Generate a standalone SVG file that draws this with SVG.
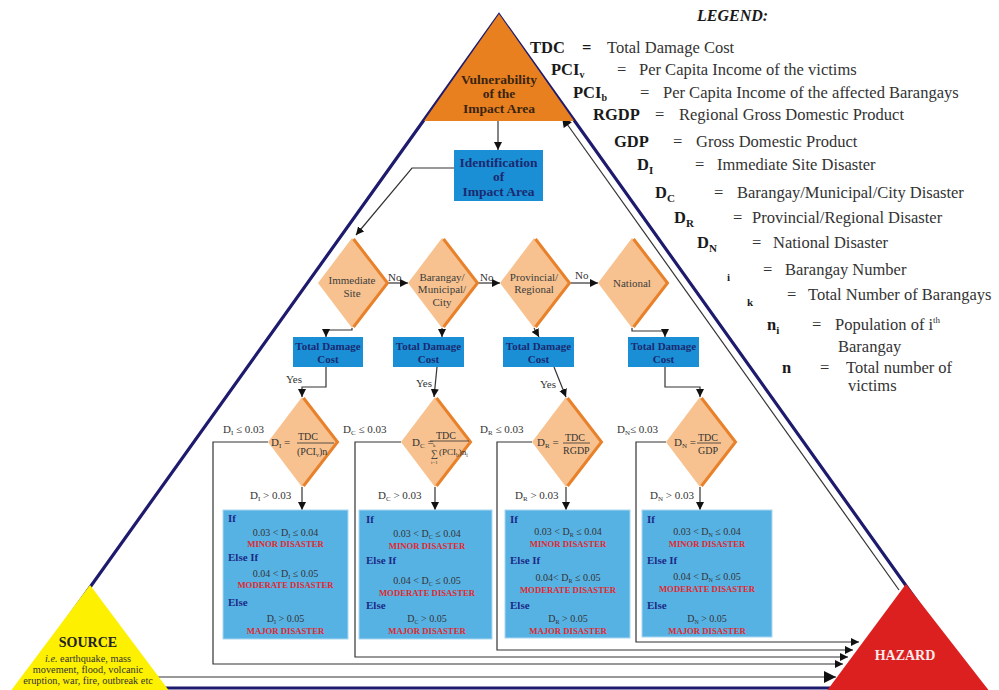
<svg xmlns="http://www.w3.org/2000/svg" width="999" height="690" viewBox="0 0 999 690">
<style>
text{font-family:"Liberation Serif","Times New Roman",serif}
.lg{font-size:16.5px;fill:#333}
.lb{font-size:16.5px;font-weight:bold;fill:#1a1a1a}
.dia{fill:#f7c28f}
.edge{fill:none;stroke:#e8812a;stroke-width:3}
.dt{font-size:11px;fill:#3d3d3d;text-anchor:middle}
.box{fill:#1b8fd6}
.bt{font-size:11px;font-weight:bold;fill:#1a2a70;text-anchor:middle}
.res{fill:#57b2e4;stroke:#a9d6f0;stroke-width:1}
.kw{font-size:11px;font-weight:bold;fill:#1b2a86}
.red{font-size:8.7px;font-weight:bold;fill:#e0282e;text-anchor:middle}
.cond{font-size:10px;fill:#333;text-anchor:middle}
.lab{font-size:11px;fill:#333}
.fx{font-size:10px;fill:#333}
.src{font-size:10.3px;fill:#333;text-anchor:middle}
.con{fill:none;stroke:#333;stroke-width:1.2}
</style>
<defs>
<marker id="ah" markerUnits="userSpaceOnUse" markerWidth="8" markerHeight="8" viewBox="0 0 10 10" refX="10" refY="5" orient="auto"><path d="M0,0 L10,5 L0,10 z" fill="#111"/></marker>
<marker id="ahm" markerUnits="userSpaceOnUse" markerWidth="12" markerHeight="10" viewBox="0 0 10 10" refX="10" refY="5" orient="auto"><path d="M0,0 L10,5 L0,10 z" fill="#111"/></marker>
<marker id="ahb" markerUnits="userSpaceOnUse" markerWidth="16" markerHeight="12" viewBox="0 0 10 10" refX="10" refY="5" orient="auto"><path d="M0,0 L10,5 L0,10 z" fill="#111"/></marker>
</defs>

<!-- outer navy triangle -->
<polygon points="499,15 18,688 979,688" fill="none" stroke="#1e1b6e" stroke-width="3.2"/>

<g id="connectors">
  <path class="con" d="M899,590 L562,117" stroke-width="2.2" stroke="#111" marker-end="url(#ahm)"/>
  <path class="con" d="M157,677 H836" stroke-width="3" stroke="#111" marker-end="url(#ahb)"/>
  <path class="con" d="M498,121 V150" marker-end="url(#ah)"/>
  <path class="con" d="M454,168 H412 L356,235" marker-end="url(#ah)"/>
  <path class="con" d="M386,283 H408" marker-end="url(#ah)"/>
  <path class="con" d="M476,283 H500" marker-end="url(#ah)"/>
  <path class="con" d="M568,283 H598" marker-end="url(#ah)"/>
  <path class="con" d="M352,328 V330 H326 V337" marker-end="url(#ah)"/>
  <path class="con" d="M442,328 V337" marker-end="url(#ah)"/>
  <path class="con" d="M534,328 L539,337" marker-end="url(#ah)"/>
  <path class="con" d="M632,328 V331 H665 V337" marker-end="url(#ah)"/>
  <path class="con" d="M326,367 V387 H302 V397" marker-end="url(#ah)"/>
  <path class="con" d="M437,367 L434,397" marker-end="url(#ah)"/>
  <path class="con" d="M554,367 L566,397" marker-end="url(#ah)"/>
  <path class="con" d="M665,367 V387 H700 V397" marker-end="url(#ah)"/>
  <path class="con" d="M302,487 V510" marker-end="url(#ah)"/>
  <path class="con" d="M435,487 V510" marker-end="url(#ah)"/>
  <path class="con" d="M566,487 V510" marker-end="url(#ah)"/>
  <path class="con" d="M700,487 V510" marker-end="url(#ah)"/>
  <path class="con" d="M268,442 H213 V664 H843" marker-end="url(#ah)"/>
  <path class="con" d="M401,442 H355 V657 H848" marker-end="url(#ah)"/>
  <path class="con" d="M532,442 H497 V650 H853" marker-end="url(#ah)"/>
  <path class="con" d="M666,442 H636 V642 H859" marker-end="url(#ah)"/>
  <text class="lab" x="388" y="281">No</text>
  <text class="lab" x="480" y="281">No</text>
  <text class="lab" x="575" y="279">No</text>
  <text class="lab" x="294" y="383" text-anchor="middle">Yes</text>
  <text class="lab" x="424" y="387" text-anchor="middle">Yes</text>
  <text class="lab" x="548" y="388" text-anchor="middle">Yes</text>
  <text class="lab" x="223" y="433">D<tspan font-size="7" dy="2">I</tspan><tspan dy="-2"> ≤ 0.03</tspan></text>
  <text class="lab" x="343" y="433">D<tspan font-size="7" dy="2">C</tspan><tspan dy="-2"> ≤ 0.03</tspan></text>
  <text class="lab" x="480" y="433">D<tspan font-size="7" dy="2">R</tspan><tspan dy="-2"> ≤ 0.03</tspan></text>
  <text class="lab" x="617" y="433">D<tspan font-size="7" dy="2">N</tspan><tspan dy="-2">≤ 0.03</tspan></text>
  <text class="lab" x="250" y="499">D<tspan font-size="7" dy="2">I</tspan><tspan dy="-2"> &gt; 0.03</tspan></text>
  <text class="lab" x="378" y="499">D<tspan font-size="7" dy="2">C</tspan><tspan dy="-2"> &gt; 0.03</tspan></text>
  <text class="lab" x="515" y="499">D<tspan font-size="7" dy="2">R</tspan><tspan dy="-2"> &gt; 0.03</tspan></text>
  <text class="lab" x="650" y="499">D<tspan font-size="7" dy="2">N</tspan><tspan dy="-2"> &gt; 0.03</tspan></text>
</g>

<g id="vulnerability">
  <polygon points="499,14 424,121 574,121" fill="#e8801f"/>
  <text x="499" y="84" font-size="13.5" font-weight="bold" fill="#3a2410" text-anchor="middle">Vulnerability</text>
  <text x="499" y="98" font-size="13.5" font-weight="bold" fill="#3a2410" text-anchor="middle">of the</text>
  <text x="499" y="113" font-size="13.5" font-weight="bold" fill="#3a2410" text-anchor="middle">Impact Area</text>
</g>

<g id="source">
  <polygon points="90,585 10,692 170,692" fill="#fdf000"/>
  <text x="88" y="647" font-size="14" font-weight="bold" fill="#222" text-anchor="middle">SOURCE</text>
  <text class="src" x="88" y="662"><tspan font-style="italic">i.e.</tspan> earthquake, mass</text>
  <text class="src" x="88" y="673">movement, flood, volcanic</text>
  <text class="src" x="88" y="684">eruption, war, fire, outbreak etc</text>
</g>

<g id="hazard">
  <polygon points="906,584 826,692 990,692" fill="#dc2020"/>
  <text x="905" y="660" font-size="14" font-weight="bold" fill="#f8eaea" text-anchor="middle">HAZARD</text>
</g>

<g id="identification">
  <rect class="box" x="454" y="150" width="89" height="51"/>
  <text x="498.5" y="167" font-size="13.5" font-weight="bold" fill="#1a2a70" text-anchor="middle">Identification</text>
  <text x="498.5" y="181" font-size="13.5" font-weight="bold" fill="#1a2a70" text-anchor="middle">of</text>
  <text x="498.5" y="196" font-size="13.5" font-weight="bold" fill="#1a2a70" text-anchor="middle">Impact Area</text>
</g>

<g id="d-immediate">
  <polygon class="dia" points="352,238 386,283 352,328 318,283"/>
  <polyline class="edge" points="353.5,239 387.5,283 353.5,327"/>
  <text class="dt" x="352" y="284">Immediate</text>
  <text class="dt" x="352" y="297">Site</text>
</g>
<g id="d-barangay">
  <polygon class="dia" points="442,238 476,283 442,328 408,283"/>
  <polyline class="edge" points="443.5,239 477.5,283 443.5,327"/>
  <text class="dt" x="442" y="281">Barangay/</text>
  <text class="dt" x="442" y="293">Municipal/</text>
  <text class="dt" x="442" y="306">City</text>
</g>
<g id="d-provincial">
  <polygon class="dia" points="534,238 568,283 534,328 500,283"/>
  <polyline class="edge" points="535.5,239 569.5,283 535.5,327"/>
  <text class="dt" x="534" y="281">Provincial/</text>
  <text class="dt" x="534" y="293">Regional</text>
</g>
<g id="d-national">
  <polygon class="dia" points="632,238 666,283 632,328 598,283"/>
  <polyline class="edge" points="633.5,239 667.5,283 633.5,327"/>
  <text class="dt" x="632" y="287">National</text>
</g>

<g id="tdc1"><rect class="box" x="293" y="337" width="70" height="30"/><text class="bt" x="328" y="350">Total Damage</text><text class="bt" x="328" y="363">Cost</text></g>
<g id="tdc2"><rect class="box" x="393" y="337" width="71" height="30"/><text class="bt" x="428.5" y="350">Total Damage</text><text class="bt" x="428.5" y="363">Cost</text></g>
<g id="tdc3"><rect class="box" x="503" y="337" width="71" height="30"/><text class="bt" x="538.5" y="350">Total Damage</text><text class="bt" x="538.5" y="363">Cost</text></g>
<g id="tdc4"><rect class="box" x="628" y="337" width="71" height="30"/><text class="bt" x="663.5" y="350">Total Damage</text><text class="bt" x="663.5" y="363">Cost</text></g>

<g id="f-di">
  <polygon class="dia" points="302,397 336,442 302,487 268,442"/>
  <polyline class="edge" points="303.5,398 337.5,442 303.5,486"/>
  <text x="271" y="446" font-size="11" fill="#333">D<tspan font-size="7" dy="2">I</tspan><tspan dy="-2"> =</tspan></text>
  <text class="fx" x="298" y="440">TDC</text>
  <line x1="297" y1="443" x2="334" y2="443" stroke="#333" stroke-width="0.8"/>
  <text class="fx" x="297" y="455">(PCI<tspan font-size="6" dy="2">v</tspan><tspan dy="-2">)n</tspan></text>
</g>
<g id="f-dc">
  <polygon class="dia" points="435,397 469,442 435,487 401,442"/>
  <polyline class="edge" points="436.5,398 470.5,442 436.5,486"/>
  <text x="412" y="446" font-size="11" fill="#333">D<tspan font-size="7" dy="2">C</tspan><tspan dy="-2"> =</tspan></text>
  <text class="fx" x="436" y="439">TDC</text>
  <line x1="430" y1="441" x2="469" y2="441" stroke="#333" stroke-width="0.8"/>
  <text x="431" y="457" font-size="10" fill="#333">∑</text>
  <text x="433" y="447" font-size="5" fill="#333">k</text>
  <text x="431" y="464" font-size="5" fill="#333">i=1</text>
  <text x="439" y="455" font-size="9" fill="#333">(PCI<tspan font-size="5.5" dy="2">b</tspan><tspan dy="-2">)n</tspan><tspan font-size="5.5" dy="2">i</tspan></text>
</g>
<g id="f-dr">
  <polygon class="dia" points="566,397 600,442 566,487 532,442"/>
  <polyline class="edge" points="567.5,398 601.5,442 567.5,486"/>
  <text x="537" y="446" font-size="11" fill="#333">D<tspan font-size="7" dy="2">R</tspan><tspan dy="-2"> =</tspan></text>
  <text class="fx" x="565" y="441">TDC</text>
  <line x1="563" y1="443" x2="590" y2="443" stroke="#333" stroke-width="0.8"/>
  <text class="fx" x="563" y="454">RGDP</text>
</g>
<g id="f-dn">
  <polygon class="dia" points="700,397 734,442 700,487 666,442"/>
  <polyline class="edge" points="701.5,398 735.5,442 701.5,486"/>
  <text x="674" y="446" font-size="11" fill="#333">D<tspan font-size="7" dy="2">N</tspan><tspan dy="-2"> =</tspan></text>
  <text class="fx" x="698" y="441">TDC</text>
  <line x1="697" y1="443" x2="721" y2="443" stroke="#333" stroke-width="0.8"/>
  <text class="fx" x="698" y="454">GDP</text>
</g>

<g id="r-di">
  <rect class="res" x="223" y="510" width="125" height="129"/>
  <text class="kw" x="228" y="522">If</text>
  <text class="cond" x="285.5" y="536">0.03 &lt; D<tspan font-size="6" dy="2">I</tspan><tspan dy="-2"> ≤ 0.04</tspan></text>
  <text class="red" x="285.5" y="547">MINOR DISASTER</text>
  <text class="kw" x="228" y="561">Else If</text>
  <text class="cond" x="285.5" y="577">0.04  &lt; D<tspan font-size="6" dy="2">I</tspan><tspan dy="-2"> ≤ 0.05</tspan></text>
  <text class="red" x="285.5" y="588">MODERATE DISASTER</text>
  <text class="kw" x="228" y="606">Else</text>
  <text class="cond" x="285.5" y="622">D<tspan font-size="6" dy="2">I</tspan><tspan dy="-2"> &gt; 0.05</tspan></text>
  <text class="red" x="285.5" y="634">MAJOR DISASTER</text>
</g>
<g id="r-dc">
  <rect class="res" x="359" y="510" width="133" height="129"/>
  <text class="kw" x="366" y="523">If</text>
  <text class="cond" x="427" y="537">0.03   &lt; D<tspan font-size="6" dy="2">C</tspan><tspan dy="-2"> ≤ 0.04</tspan></text>
  <text class="red" x="427" y="549">MINOR DISASTER</text>
  <text class="kw" x="366" y="564">Else If</text>
  <text class="cond" x="427" y="584">0.04 &lt; D<tspan font-size="6" dy="2">C</tspan><tspan dy="-2"> ≤ 0.05</tspan></text>
  <text class="red" x="427" y="596">MODERATE DISASTER</text>
  <text class="kw" x="366" y="609">Else</text>
  <text class="cond" x="427" y="622">D<tspan font-size="6" dy="2">C</tspan><tspan dy="-2"> &gt; 0.05</tspan></text>
  <text class="red" x="427" y="634">MAJOR DISASTER</text>
</g>
<g id="r-dr">
  <rect class="res" x="505" y="510" width="125" height="128"/>
  <text class="kw" x="510" y="523">If</text>
  <text class="cond" x="568" y="535">0.03   &lt; D<tspan font-size="6" dy="2">R</tspan><tspan dy="-2"> ≤ 0.04</tspan></text>
  <text class="red" x="568" y="547">MINOR DISASTER</text>
  <text class="kw" x="510" y="564">Else If</text>
  <text class="cond" x="568" y="581">0.04&lt; D<tspan font-size="6" dy="2">R</tspan><tspan dy="-2"> ≤ 0.05</tspan></text>
  <text class="red" x="568" y="593">MODERATE DISASTER</text>
  <text class="kw" x="510" y="609">Else</text>
  <text class="cond" x="568" y="622">D<tspan font-size="6" dy="2">R</tspan><tspan dy="-2"> &gt; 0.05</tspan></text>
  <text class="red" x="568" y="634">MAJOR DISASTER</text>
</g>
<g id="r-dn">
  <rect class="res" x="642" y="510" width="130" height="127"/>
  <text class="kw" x="647" y="523">If</text>
  <text class="cond" x="707" y="535">0.03  &lt; D<tspan font-size="6" dy="2">N</tspan><tspan dy="-2"> ≤ 0.04</tspan></text>
  <text class="red" x="707" y="547">MINOR DISASTER</text>
  <text class="kw" x="647" y="564">Else If</text>
  <text class="cond" x="707" y="580">0.04 &lt; D<tspan font-size="6" dy="2">N</tspan><tspan dy="-2"> ≤ 0.05</tspan></text>
  <text class="red" x="707" y="592">MODERATE DISASTER</text>
  <text class="kw" x="647" y="609">Else</text>
  <text class="cond" x="707" y="622">D<tspan font-size="6" dy="2">N</tspan><tspan dy="-2"> &gt; 0.05</tspan></text>
  <text class="red" x="707" y="634">MAJOR DISASTER</text>
</g>

<g id="legend">
  <text x="697" y="21" font-size="16" font-weight="bold" font-style="italic" fill="#1a1a1a">LEGEND:</text>
  <text class="lb" x="530" y="53">TDC</text><text class="lb" x="582" y="53">=</text><text class="lg" x="607" y="53">Total Damage Cost</text>
  <text class="lb" x="551" y="75">PCI<tspan font-size="10" dy="3">v</tspan></text><text class="lg" x="617" y="75">=</text><text class="lg" x="639" y="75">Per Capita Income of the victims</text>
  <text class="lb" x="573" y="98">PCI<tspan font-size="10" dy="3">b</tspan></text><text class="lg" x="640" y="98">=</text><text class="lg" x="663" y="98">Per Capita Income of the affected Barangays</text>
  <text class="lb" x="593" y="120">RGDP</text><text class="lg" x="655" y="120">=</text><text class="lg" x="679" y="120">Regional Gross Domestic Product</text>
  <text class="lb" x="614" y="147">GDP</text><text class="lg" x="673" y="147">=</text><text class="lg" x="696" y="147">Gross Domestic Product</text>
  <text class="lb" x="637" y="170">D<tspan font-size="11" dy="4">I</tspan></text><text class="lg" x="695" y="170">=</text><text class="lg" x="717" y="170">Immediate Site Disaster</text>
  <text class="lb" x="655" y="198">D<tspan font-size="11" dy="4">C</tspan></text><text class="lg" x="714" y="198">=</text><text class="lg" x="737" y="198">Barangay/Municipal/City Disaster</text>
  <text class="lb" x="674" y="223">D<tspan font-size="11" dy="4">R</tspan></text><text class="lg" x="733" y="223">=</text><text class="lg" x="752" y="223">Provincial/Regional Disaster</text>
  <text class="lb" x="697" y="248">D<tspan font-size="11" dy="4">N</tspan></text><text class="lg" x="752" y="248">=</text><text class="lg" x="773" y="248">National Disaster</text>
  <text x="727" y="281" font-size="11" font-weight="bold" fill="#1a1a1a">i</text><text class="lg" x="763" y="275">=</text><text class="lg" x="785" y="275">Barangay Number</text>
  <text x="747" y="306" font-size="11" font-weight="bold" fill="#1a1a1a">k</text><text class="lg" x="787" y="300">=</text><text class="lg" x="808" y="300">Total Number of Barangays</text>
  <text class="lb" x="767" y="330">n<tspan font-size="11" dy="4">i</tspan></text><text class="lg" x="812" y="330">=</text><text class="lg" x="835" y="330">Population of i<tspan font-size="9" dy="-7">th</tspan></text>
  <text class="lg" x="838" y="352">Barangay</text>
  <text class="lb" x="782" y="373">n</text><text class="lg" x="820" y="373">=</text><text class="lg" x="846" y="373">Total number of</text>
  <text class="lg" x="848" y="391">victims</text>
</g>
</svg>
